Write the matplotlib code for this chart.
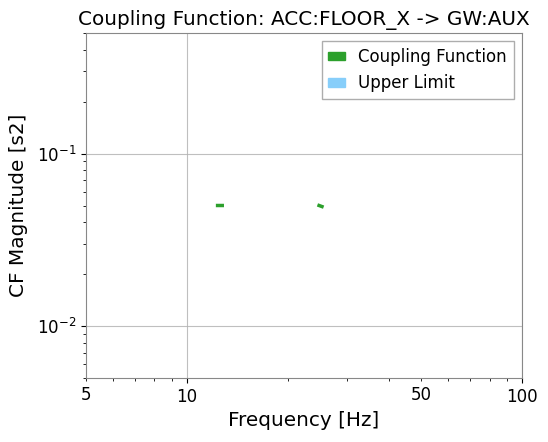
import numpy as np
import matplotlib
matplotlib.use("Agg")
import matplotlib.pyplot as plt
from matplotlib.patches import Patch
from matplotlib.ticker import FixedLocator, FixedFormatter

# data
freq_cf = [12.35, 12.75, np.nan, 24.8, 25.3]
cf_values = [0.0500, 0.0500, np.nan, 0.0500, 0.0493]
freq_ul = []
ul_values = []
title = "Coupling Function: ACC:FLOOR_X -> GW:AUX"
xlabel = "Frequency [Hz]"
ylabel = "CF Magnitude [s2]"
xlim = (5, 100)
ylim = (0.005, 0.5)

fig = plt.figure(figsize=(5.48, 4.42), dpi=100)
ax = fig.add_axes([86/548, 1-378/442, (522-86)/548, (378-33)/442])
ax.plot(freq_cf, cf_values, color='#2ca02c', lw=2.5)
if freq_ul:
    ax.plot(freq_ul, ul_values, color='lightskyblue', lw=2.5)
ax.set_xscale('log')
ax.set_yscale('log')
ax.set_xlim(*xlim)
ax.set_ylim(*ylim)

ax.xaxis.set_major_locator(FixedLocator([10, 100]))
ax.xaxis.set_major_formatter(FixedFormatter(['10', '100']))
minor = [5, 6, 7, 8, 9, 20, 30, 40, 50, 60, 70, 80, 90]
ax.xaxis.set_minor_locator(FixedLocator(minor))
ax.xaxis.set_minor_formatter(FixedFormatter(['5' if m == 5 else ('50' if m == 50 else '') for m in minor]))

ax.tick_params(axis='both', which='both', labelsize=12)
ax.grid(True, which='major', color='#b0b0b0', lw=0.8, alpha=0.8)
for s in ax.spines.values():
    s.set_color('#888888')

ax.set_title(title, fontsize=14.4)
ax.set_xlabel(xlabel, fontsize=14.4)
ax.set_ylabel(ylabel, fontsize=14.4, labelpad=6)

handles = [Patch(color='#2ca02c', label='Coupling Function'),
           Patch(color='lightskyblue', label='Upper Limit')]
ax.legend(handles=handles, loc='upper right', fontsize=12, fancybox=False,
          edgecolor='#999999', handlelength=1.0, handleheight=0.4)

fig.savefig('out.png', dpi=100)
